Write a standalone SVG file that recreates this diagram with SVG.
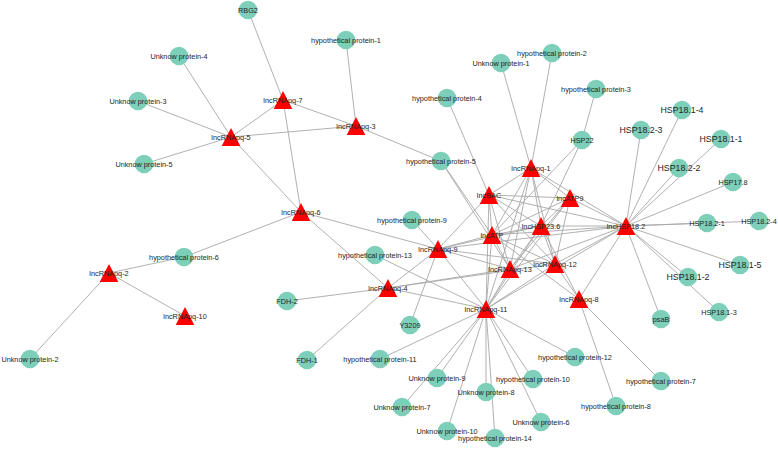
<svg xmlns="http://www.w3.org/2000/svg" xmlns:xlink="http://www.w3.org/1999/xlink" width="778" height="450" viewBox="0 0 778 450">
<style>
.e line{stroke:#a8a8a8;stroke-width:0.9;fill:none}
.c{fill:#7ecfba}
.t{fill:#ff0000}
text{font-family:"Liberation Sans",Arial,sans-serif;font-size:7.3px;fill:#222;text-anchor:middle;opacity:0.98}
text.big{font-size:8.8px}
</style>
<defs>
<path id="tri" d="M0,-9 L9.3,9 L-9.3,9 Z"/>
</defs>
<rect width="778" height="450" fill="#fff"/>
<g id="edges" class="e">
<line x1="248" y1="10" x2="283" y2="100"/>
<line x1="179" y1="56" x2="231" y2="137"/>
<line x1="138" y1="101" x2="231" y2="137"/>
<line x1="144" y1="164" x2="231" y2="137"/>
<line x1="231" y1="137" x2="283" y2="100"/>
<line x1="231" y1="137" x2="356" y2="126"/>
<line x1="231" y1="137" x2="301" y2="212"/>
<line x1="283" y1="100" x2="356" y2="126"/>
<line x1="283" y1="100" x2="301" y2="212"/>
<line x1="346" y1="40" x2="356" y2="126"/>
<line x1="356" y1="126" x2="441" y2="161"/>
<line x1="447" y1="98" x2="489" y2="195"/>
<line x1="501" y1="63" x2="531" y2="168"/>
<line x1="552" y1="53" x2="531" y2="168"/>
<line x1="596" y1="89" x2="582" y2="140"/>
<line x1="582" y1="140" x2="492" y2="235"/>
<line x1="582" y1="140" x2="541" y2="226"/>
<line x1="626" y1="226" x2="641" y2="130"/>
<line x1="626" y1="226" x2="682" y2="110"/>
<line x1="626" y1="226" x2="721" y2="139"/>
<line x1="626" y1="226" x2="679" y2="168"/>
<line x1="626" y1="226" x2="733" y2="182"/>
<line x1="626" y1="226" x2="707" y2="223"/>
<line x1="626" y1="226" x2="759" y2="221"/>
<line x1="626" y1="226" x2="740" y2="265"/>
<line x1="626" y1="226" x2="688" y2="277"/>
<line x1="626" y1="226" x2="719" y2="312"/>
<line x1="626" y1="226" x2="661" y2="319"/>
<line x1="579" y1="299" x2="626" y2="226"/>
<line x1="579" y1="299" x2="661" y2="381"/>
<line x1="579" y1="299" x2="616" y2="406"/>
<line x1="486" y1="309" x2="575" y2="357"/>
<line x1="486" y1="309" x2="533" y2="379"/>
<line x1="486" y1="309" x2="541" y2="422"/>
<line x1="486" y1="309" x2="495" y2="438"/>
<line x1="486" y1="309" x2="486" y2="392"/>
<line x1="486" y1="309" x2="447" y2="431"/>
<line x1="486" y1="309" x2="437" y2="378"/>
<line x1="486" y1="309" x2="402" y2="407"/>
<line x1="486" y1="309" x2="380" y2="359"/>
<line x1="486" y1="309" x2="375" y2="255"/>
<line x1="410" y1="325" x2="438" y2="249"/>
<line x1="307" y1="360" x2="388" y2="288"/>
<line x1="287" y1="301" x2="388" y2="288"/>
<line x1="109" y1="273" x2="184" y2="257"/>
<line x1="109" y1="273" x2="185" y2="316"/>
<line x1="109" y1="273" x2="30" y2="359"/>
<line x1="184" y1="257" x2="301" y2="212"/>
<line x1="301" y1="212" x2="438" y2="249"/>
<line x1="301" y1="212" x2="388" y2="288"/>
<line x1="412" y1="220" x2="438" y2="249"/>
<line x1="441" y1="161" x2="492" y2="235"/>
<line x1="441" y1="161" x2="510" y2="269"/>
<line x1="489" y1="195" x2="492" y2="235"/>
<line x1="489" y1="195" x2="531" y2="168"/>
<line x1="489" y1="195" x2="570" y2="198"/>
<line x1="489" y1="195" x2="541" y2="226"/>
<line x1="489" y1="195" x2="555" y2="264"/>
<line x1="489" y1="195" x2="510" y2="269"/>
<line x1="489" y1="195" x2="486" y2="309"/>
<line x1="489" y1="195" x2="626" y2="226"/>
<line x1="489" y1="195" x2="438" y2="249"/>
<line x1="492" y1="235" x2="531" y2="168"/>
<line x1="492" y1="235" x2="570" y2="198"/>
<line x1="492" y1="235" x2="541" y2="226"/>
<line x1="492" y1="235" x2="555" y2="264"/>
<line x1="492" y1="235" x2="510" y2="269"/>
<line x1="492" y1="235" x2="486" y2="309"/>
<line x1="492" y1="235" x2="626" y2="226"/>
<line x1="492" y1="235" x2="438" y2="249"/>
<line x1="492" y1="235" x2="579" y2="299"/>
<line x1="531" y1="168" x2="570" y2="198"/>
<line x1="531" y1="168" x2="541" y2="226"/>
<line x1="531" y1="168" x2="555" y2="264"/>
<line x1="531" y1="168" x2="510" y2="269"/>
<line x1="531" y1="168" x2="486" y2="309"/>
<line x1="531" y1="168" x2="626" y2="226"/>
<line x1="570" y1="198" x2="541" y2="226"/>
<line x1="570" y1="198" x2="555" y2="264"/>
<line x1="570" y1="198" x2="510" y2="269"/>
<line x1="570" y1="198" x2="486" y2="309"/>
<line x1="570" y1="198" x2="626" y2="226"/>
<line x1="541" y1="226" x2="555" y2="264"/>
<line x1="541" y1="226" x2="510" y2="269"/>
<line x1="541" y1="226" x2="486" y2="309"/>
<line x1="541" y1="226" x2="626" y2="226"/>
<line x1="541" y1="226" x2="579" y2="299"/>
<line x1="555" y1="264" x2="486" y2="309"/>
<line x1="555" y1="264" x2="626" y2="226"/>
<line x1="555" y1="264" x2="579" y2="299"/>
<line x1="510" y1="269" x2="486" y2="309"/>
<line x1="510" y1="269" x2="626" y2="226"/>
<line x1="486" y1="309" x2="626" y2="226"/>
<line x1="486" y1="309" x2="438" y2="249"/>
<line x1="438" y1="249" x2="541" y2="226"/>
<line x1="438" y1="249" x2="555" y2="264"/>
<line x1="438" y1="249" x2="510" y2="269"/>
<line x1="438" y1="249" x2="626" y2="226"/>
<line x1="388" y1="288" x2="438" y2="249"/>
<line x1="388" y1="288" x2="510" y2="269"/>
<line x1="388" y1="288" x2="555" y2="264"/>
<line x1="388" y1="288" x2="486" y2="309"/>
</g>
<g id="n-RBG2"><circle class="c" cx="248" cy="10" r="9.3"/><text x="248" y="12.6">RBG2</text></g>
<g id="n-UP4"><circle class="c" cx="179" cy="56" r="9.3"/><text x="179" y="58.6">Unknow protein-4</text></g>
<g id="n-UP3"><circle class="c" cx="138" cy="101" r="9.3"/><text x="138" y="103.6">Unknow protein-3</text></g>
<g id="n-UP5"><circle class="c" cx="144" cy="164" r="9.3"/><text x="144" y="166.6">Unknow protein-5</text></g>
<g id="n-HP6"><circle class="c" cx="184" cy="257" r="9.3"/><text x="184" y="259.6">hypothetical protein-6</text></g>
<g id="n-UP2"><circle class="c" cx="30" cy="359" r="9.3"/><text x="30" y="361.6">Unknow protein-2</text></g>
<g id="n-HP1"><circle class="c" cx="346" cy="40" r="9.3"/><text x="346" y="42.6">hypothetical protein-1</text></g>
<g id="n-HP4"><circle class="c" cx="447" cy="98" r="9.3"/><text x="447" y="100.6">hypothetical protein-4</text></g>
<g id="n-UP1"><circle class="c" cx="501" cy="63" r="9.3"/><text x="501" y="65.6">Unknow protein-1</text></g>
<g id="n-HP2"><circle class="c" cx="552" cy="53" r="9.3"/><text x="552" y="55.6">hypothetical protein-2</text></g>
<g id="n-HP3"><circle class="c" cx="596" cy="89" r="9.3"/><text x="596" y="91.6">hypothetical protein-3</text></g>
<g id="n-HSP22"><circle class="c" cx="582" cy="140" r="9.3"/><text x="582" y="142.6">HSP22</text></g>
<g id="n-HSP18.2-3"><circle class="c" cx="641" cy="130" r="9.3"/><text class="big" x="641" y="133.1">HSP18.2-3</text></g>
<g id="n-HSP18.1-4"><circle class="c" cx="682" cy="110" r="9.3"/><text class="big" x="682" y="113.1">HSP18.1-4</text></g>
<g id="n-HSP18.1-1"><circle class="c" cx="721" cy="139" r="9.3"/><text class="big" x="721" y="142.1">HSP18.1-1</text></g>
<g id="n-HSP18.2-2"><circle class="c" cx="679" cy="168" r="9.3"/><text class="big" x="679" y="171.1">HSP18.2-2</text></g>
<g id="n-HSP17.8"><circle class="c" cx="733" cy="182" r="9.3"/><text x="733" y="184.6">HSP17.8</text></g>
<g id="n-HSP18.2-1"><circle class="c" cx="707" cy="223" r="9.3"/><text x="707" y="225.6">HSP18.2-1</text></g>
<g id="n-HSP18.2-4"><circle class="c" cx="759" cy="221" r="9.3"/><text x="759" y="223.6">HSP18.2-4</text></g>
<g id="n-HSP18.1-5"><circle class="c" cx="740" cy="265" r="9.3"/><text class="big" x="740" y="268.1">HSP18.1-5</text></g>
<g id="n-HSP18.1-2"><circle class="c" cx="688" cy="277" r="9.3"/><text class="big" x="688" y="280.1">HSP18.1-2</text></g>
<g id="n-HSP18.1-3"><circle class="c" cx="719" cy="312" r="9.3"/><text x="719" y="314.6">HSP18.1-3</text></g>
<g id="n-psaB"><circle class="c" cx="661" cy="319" r="9.3"/><text x="661" y="321.6">psaB</text></g>
<g id="n-HP12"><circle class="c" cx="575" cy="357" r="9.3"/><text x="575" y="359.6">hypothetical protein-12</text></g>
<g id="n-HP7"><circle class="c" cx="661" cy="381" r="9.3"/><text x="661" y="383.6">hypothetical protein-7</text></g>
<g id="n-HP8"><circle class="c" cx="616" cy="406" r="9.3"/><text x="616" y="408.6">hypothetical protein-8</text></g>
<g id="n-UP6"><circle class="c" cx="541" cy="422" r="9.3"/><text x="541" y="424.6">Unknow protein-6</text></g>
<g id="n-HP10"><circle class="c" cx="533" cy="379" r="9.3"/><text x="533" y="381.6">hypothetical protein-10</text></g>
<g id="n-HP14"><circle class="c" cx="495" cy="438" r="9.3"/><text x="495" y="440.6">hypothetical protein-14</text></g>
<g id="n-UP10"><circle class="c" cx="447" cy="431" r="9.3"/><text x="447" y="433.6">Unknow protein-10</text></g>
<g id="n-UP8"><circle class="c" cx="486" cy="392" r="9.3"/><text x="486" y="394.6">Unknow protein-8</text></g>
<g id="n-UP9"><circle class="c" cx="437" cy="378" r="9.3"/><text x="437" y="380.6">Unknow protein-9</text></g>
<g id="n-UP7"><circle class="c" cx="402" cy="407" r="9.3"/><text x="402" y="409.6">Unknow protein-7</text></g>
<g id="n-HP11"><circle class="c" cx="380" cy="359" r="9.3"/><text x="380" y="361.6">hypothetical protein-11</text></g>
<g id="n-FDH1"><circle class="c" cx="307" cy="360" r="9.3"/><text x="307" y="362.6">FDH-1</text></g>
<g id="n-Y3209"><circle class="c" cx="410" cy="325" r="9.3"/><text x="410" y="327.6">Y3209</text></g>
<g id="n-FDH2"><circle class="c" cx="287" cy="301" r="9.3"/><text x="287" y="303.6">FDH-2</text></g>
<g id="n-HP13"><circle class="c" cx="375" cy="255" r="9.3"/><text x="375" y="257.6">hypothetical protein-13</text></g>
<g id="n-HP9"><circle class="c" cx="412" cy="220" r="9.3"/><text x="412" y="222.6">hypothetical protein-9</text></g>
<g id="n-HP5"><circle class="c" cx="441" cy="161" r="9.3"/><text x="441" y="163.6">hypothetical protein-5</text></g>
<g id="n-lncRNApq-5"><use href="#tri" class="t" x="231" y="137"/><text x="231" y="139.6">lncRNApq-5</text></g>
<g id="n-lncRNApq-7"><use href="#tri" class="t" x="283" y="100"/><text x="283" y="102.6">lncRNApq-7</text></g>
<g id="n-lncRNApq-3"><use href="#tri" class="t" x="356" y="126"/><text x="356" y="128.6">lncRNApq-3</text></g>
<g id="n-lncRNApq-6"><use href="#tri" class="t" x="301" y="212"/><text x="301" y="214.6">lncRNApq-6</text></g>
<g id="n-lncRNApq-2"><use href="#tri" class="t" x="109" y="273"/><text x="109" y="275.6">lncRNApq-2</text></g>
<g id="n-lncRNApq-10"><use href="#tri" class="t" x="185" y="316"/><text x="185" y="318.6">lncRNApq-10</text></g>
<g id="n-lncRNApq-9"><use href="#tri" class="t" x="438" y="249"/><text x="438" y="251.6">lncRNApq-9</text></g>
<g id="n-lncRNApq-4"><use href="#tri" class="t" x="388" y="288"/><text x="388" y="290.6">lncRNApq-4</text></g>
<g id="n-lncBAC"><use href="#tri" class="t" x="489" y="195"/><text x="489" y="197.6">lncBAC</text></g>
<g id="n-lncATP"><use href="#tri" class="t" x="492" y="235"/><text x="492" y="237.6">lncATP</text></g>
<g id="n-lncRNApq-1"><use href="#tri" class="t" x="531" y="168"/><text x="531" y="170.6">lncRNApq-1</text></g>
<g id="n-lncATP9"><use href="#tri" class="t" x="570" y="198"/><text x="570" y="200.6">lncATP9</text></g>
<g id="n-lncHSP23.6"><use href="#tri" class="t" x="541" y="226"/><text x="541" y="228.6">lncHSP23.6</text></g>
<g id="n-lncRNApq-13"><use href="#tri" class="t" x="510" y="269"/><text x="510" y="271.6">lncRNApq-13</text></g>
<g id="n-lncRNApq-12"><use href="#tri" class="t" x="555" y="264"/><text x="555" y="266.6">lncRNApq-12</text></g>
<g id="n-lncRNApq-8"><use href="#tri" class="t" x="579" y="299"/><text x="579" y="301.6">lncRNApq-8</text></g>
<g id="n-lncRNApq-11"><use href="#tri" class="t" x="486" y="309"/><text x="486" y="311.6">lncRNApq-11</text></g>
<g id="n-lncHSP18.2"><use href="#tri" class="t" x="626" y="226"/><text x="626" y="228.6">lncHSP18.2</text></g>
</svg>
